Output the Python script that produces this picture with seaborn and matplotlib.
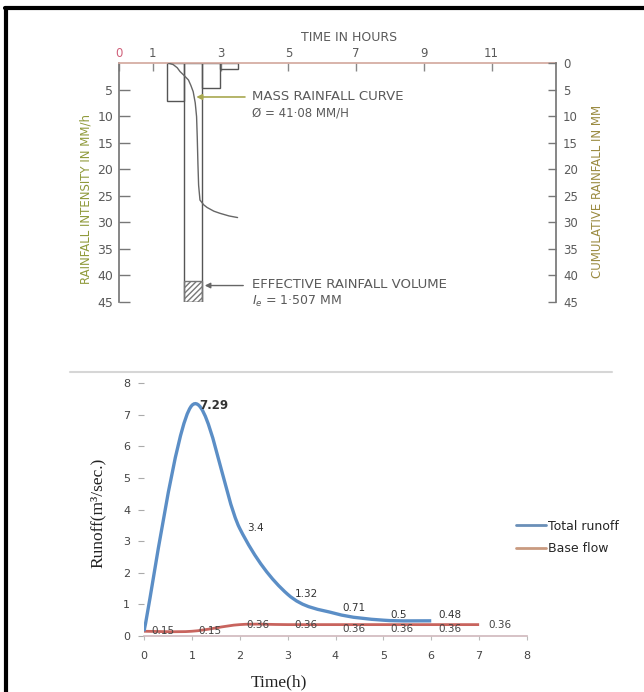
import numpy as np
import pandas as pd
import matplotlib
matplotlib.use("Agg")
import matplotlib.pyplot as plt
from matplotlib import font_manager
from matplotlib.lines import Line2D
from matplotlib.path import Path
from matplotlib.patches import PathPatch
import seaborn as sns

# ---- top panel: hyetograph and mass curve ----
hour_ticks = [0, 1, 3, 5, 7, 9, 11]
bar_left = [1.43, 1.92, 2.45, 2.98]
bar_width = [0.49, 0.53, 0.53, 0.52]
bar_intensity = [7.2, 45, 4.7, 1.1]
phi_index = 41.08
mass_time = [1.45, 1.6, 1.72, 1.8, 1.93, 2.05, 2.12, 2.19, 2.25, 2.29, 2.31, 2.33,
             2.35, 2.39, 2.5, 2.6, 2.8, 2.98, 3.25, 3.5]
mass_cum = [0, 0.3, 0.9, 1.6, 2.4, 3.2, 4.2, 5.4, 7.5, 10.1, 14, 19,
            23, 25.8, 26.7, 27.2, 27.9, 28.3, 28.8, 29.1]
depth_ticks = [0, 5, 10, 15, 20, 25, 30, 35, 40, 45]

# ---- bottom panel: runoff hydrograph ----
total_time = [0, 1, 2, 3, 4, 5, 6]
total_runoff = [0.15, 7.29, 3.4, 1.32, 0.71, 0.5, 0.48]
base_time = [0, 1, 2, 3, 4, 5, 6, 7]
base_flow = [0.15, 0.15, 0.36, 0.36, 0.36, 0.36, 0.36, 0.36]

sns.set_theme(style="white")
avail = {f.name for f in font_manager.fontManager.ttflist}
narrow = "Liberation Sans Narrow" if "Liberation Sans Narrow" in avail else "DejaVu Sans"
serif = "Liberation Serif" if "Liberation Serif" in avail else "DejaVu Serif"
plt.rcParams["font.family"] = ["DejaVu Sans"]

W, H = 644, 692
fig = plt.figure(figsize=(W / 100, H / 100), dpi=100)
fig.patch.set_facecolor("white")

ink = "#5a5a5a"

# top panel
ax = fig.add_axes([119 / W, 1 - 302 / H, 437 / W, 239 / H])
ax2 = ax.twinx()
ax.set_xlim(0, 12.9)
ax.set_ylim(45, 0)
ax2.set_ylim(45, 0)
ax.set_facecolor("none")

ax.bar(bar_left, bar_intensity, width=bar_width, align="edge", fill=False,
       edgecolor="#555555", linewidth=1.0)
ax.bar([bar_left[1]], [45 - phi_index], bottom=[phi_index], width=[bar_width[1]],
       align="edge", fill=False, hatch="//////", edgecolor="#777777", linewidth=1.0)

mass = pd.DataFrame({"t": mass_time, "c": mass_cum})
sns.lineplot(data=mass, x="t", y="c", ax=ax2, color="#666666", linewidth=1.0,
             sort=False, estimator=None)

ax.xaxis.tick_top()
ax.set_xticks(hour_ticks)
ax.set_xticklabels([str(h) for h in hour_ticks], fontsize=8.5, color=ink)
ax.get_xticklabels()[0].set_color("#d0607a")
ax.tick_params(axis="x", direction="in", length=6, width=1, color="#888888", pad=2)
ax.set_yticks(depth_ticks[1:])
ax.set_yticklabels([str(v) for v in depth_ticks[1:]], fontsize=9, color=ink)
ax.tick_params(axis="y", direction="in", length=8, width=1, color="#777777", pad=4)
ax2.set_yticks(depth_ticks)
ax2.set_yticklabels([str(v) for v in depth_ticks], fontsize=8.5, color=ink)
ax2.tick_params(axis="y", direction="in", length=6, width=1, color="#777777", pad=5)
ax.set_xlabel("")
ax.set_ylabel("")
ax2.set_xlabel("")
ax2.set_ylabel("")
for s in ["bottom", "right"]:
    ax.spines[s].set_visible(False)
for s in ["bottom", "left", "top"]:
    ax2.spines[s].set_visible(False)
ax.spines["top"].set_color("#d4aaa0")
ax.spines["left"].set_color("#777777")
ax2.spines["right"].set_color("#777777")

ax.text(0.526, 1.105, "TIME IN HOURS", transform=ax.transAxes, ha="center",
        va="center", fontsize=9, color=ink)
ax.text(-0.076, 0.43, "RAINFALL INTENSITY IN MM/h", transform=ax.transAxes,
        rotation=90, ha="center", va="center", fontsize=8.5, color="#8f9a3a")
ax.text(1.094, 0.464, "CUMULATIVE RAINFALL IN MM", transform=ax.transAxes,
        rotation=90, ha="center", va="center", fontsize=8.5, color="#9a8a40")

ax.annotate("", xy=(2.2, 6.4), xytext=(3.8, 6.4),
            arrowprops=dict(arrowstyle="-|>", color="#a8a850", lw=1.2,
                            mutation_scale=8))
ax.text(3.92, 6.4, "MASS RAINFALL CURVE", fontsize=9.5, color=ink, va="center")
ax.text(3.92, 9.4, "Ø = 41·08 MM/H", fontsize=8.5, color=ink, va="center")
ax.annotate("", xy=(2.45, 41.9), xytext=(3.75, 41.9),
            arrowprops=dict(arrowstyle="-|>", color="#666666", lw=1.0,
                            mutation_scale=8))
ax.text(3.92, 41.7, "EFFECTIVE RAINFALL VOLUME", fontsize=9.5, color=ink, va="center")
ax.text(3.92, 44.9, "$I_e$ = 1·507 MM", fontsize=9, color=ink, va="center")


# bottom panel
def smooth_path(xs, ys):
    pts = np.column_stack([xs, ys]).astype(float)
    n = len(pts)
    verts = [pts[0]]
    codes = [Path.MOVETO]
    for i in range(n - 1):
        p0 = pts[max(i - 1, 0)]
        p1 = pts[i]
        p2 = pts[i + 1]
        p3 = pts[min(i + 2, n - 1)]
        verts += [p1 + (p2 - p0) / 6, p2 - (p3 - p1) / 6, p2]
        codes += [Path.CURVE4] * 3
    return Path(verts, codes)


bx = fig.add_axes([144 / W, 1 - 636 / H, 383 / W, 253 / H])
bx.set_xlim(0, 8)
bx.set_ylim(0, 8)
blue = "#5b8ec6"
red = "#c8645e"
bx.add_patch(PathPatch(smooth_path(base_time, base_flow), fill=False,
                       edgecolor=red, linewidth=2.0))
bx.add_patch(PathPatch(smooth_path(total_time, total_runoff), fill=False,
                       edgecolor=blue, linewidth=2.4))

# labels sit right of each point; where the two series crowd, nudge apart
for t, q in zip(base_time, base_flow):
    dy = -3 if 4 <= t <= 6 else 0
    bx.annotate(f"{q:g}", (t, q), xytext=(7 if t == 7 else 5, dy),
                textcoords="offset points", ha="left", va="center",
                fontsize=7.5, color="#444444", family=[narrow, "DejaVu Sans"])
for t, q in zip(total_time, total_runoff):
    if t == 0:
        continue  # same value and place as the base-flow label
    dy = 4 if t >= 4 else 0
    bx.annotate(f"{q:g}", (t, q), xytext=(5, dy), textcoords="offset points",
                ha="left", va="center", fontsize=8.5 if q > 7 else 7.5,
                color="#333333", fontweight="bold" if q > 7 else "normal",
                family=[narrow, "DejaVu Sans"])

bx.set_xticks(range(0, 9))
bx.set_yticks(range(0, 9))
bx.set_xticklabels([str(v) for v in range(0, 9)], fontsize=8, color="#444444",
                   family=[narrow, "DejaVu Sans"])
bx.set_yticklabels([str(v) for v in range(0, 9)], fontsize=8, color="#444444",
                   family=[narrow, "DejaVu Sans"])
bx.tick_params(axis="x", direction="out", length=3, width=0.8, color="#bbbbbb",
               pad=8, bottom=True)
bx.tick_params(axis="y", direction="out", length=4, width=0.8, color="#aaaaaa",
               pad=6, left=True)
for s in ["top", "right", "left"]:
    bx.spines[s].set_visible(False)
bx.spines["bottom"].set_color("#cfb8bc")
bx.spines["bottom"].set_linewidth(1.2)

bx.text(-0.12, 0.486, "Runoff(m³/sec.)", transform=bx.transAxes, rotation=90,
        ha="center", va="center", fontsize=12.5, color="#222222", family=serif)
bx.text(0.352, -0.182, "Time(h)", transform=bx.transAxes, ha="center",
        va="center", fontsize=12.5, color="#222222", family=serif)

handles = [Line2D([], [], color="#6a8fb8", lw=2),
           Line2D([], [], color="#c99a80", lw=2)]
bx.legend(handles, ["Total runoff", "Base flow"], loc="center left",
          bbox_to_anchor=(0.972, 0.39), frameon=False, handlelength=2.4,
          handletextpad=0.1, labelspacing=0.75, borderpad=0, borderaxespad=0,
          prop={"family": [narrow, "DejaVu Sans"], "size": 9})

# page frame and pasted-panel edge
fig.add_artist(Line2D([6 / W, 6 / W], [0, 1 - 8 / H], color="black", lw=3,
                      transform=fig.transFigure))
fig.add_artist(Line2D([5 / W, 1], [1 - 8 / H, 1 - 8 / H], color="black", lw=3,
                      transform=fig.transFigure))
fig.add_artist(Line2D([70 / W, 612 / W], [1 - 372 / H, 1 - 372 / H],
                      color="#d6d6d6", lw=1.5, transform=fig.transFigure))

fig.savefig("out.png", dpi=100, facecolor="white")
